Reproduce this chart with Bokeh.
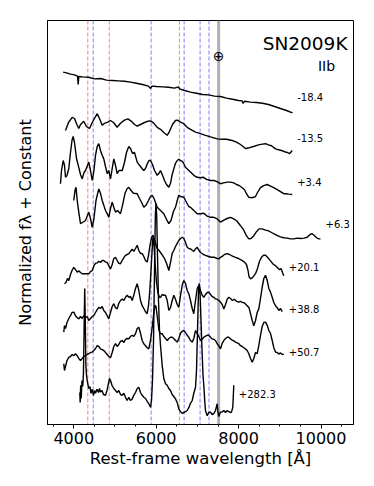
from bokeh.plotting import figure
from bokeh.models import Range1d, FixedTicker, Span, Label
from bokeh.embed import file_html
from bokeh.resources import INLINE

# ---------------- data ----------------
epochs = ["-18.4", "-13.5", "+3.4", "+6.3", "+20.1", "+38.8", "+50.7", "+282.3"]
offsets = [8.0, 7.0, 6.0, 5.0, 4.0, 3.0, 2.0, 0.5]

wl_m184 = [3743, 3823, 3920, 4017, 4090, 4107, 4121, 4211, 4357, 4502, 4648, 4794, 4939, 5085, 5230, 5376,
           5522, 5667, 5813, 5862, 5898, 6007, 6153, 6298, 6444, 6541, 6566, 6687, 6832, 6978, 7124, 7269,
           7415, 7560, 7706, 7852, 7997, 8087, 8106, 8143, 8289, 8434, 8579, 8725, 8871, 9016, 9162, 9307]
fl_m184 = [0.81, 0.79, 0.76, 0.74, 0.71, 0.50, 0.70, 0.69, 0.68, 0.64, 0.65, 0.61, 0.60, 0.59, 0.58, 0.56,
           0.53, 0.50, 0.46, 0.40, 0.46, 0.45, 0.44, 0.43, 0.41, 0.44, 0.39, 0.35, 0.31, 0.28, 0.25, 0.24,
           0.21, 0.20, 0.16, 0.13, 0.10, 0.09, 0.03, 0.08, 0.06, 0.05, 0.03, 0.00, -0.05, -0.10, -0.15, -0.21]

wl_m135 = [3799, 3872, 3961, 4017, 4083, 4121, 4163, 4243, 4308, 4381, 4447, 4502, 4568, 4624, 4689, 4745,
           4825, 4891, 4963, 5053, 5133, 5230, 5315, 5400, 5473, 5539, 5619, 5716, 5789, 5862, 5935, 6024,
           6104, 6184, 6267, 6323, 6395, 6468, 6517, 6590, 6670, 6752, 6832, 6954, 7075, 7196, 7318, 7480,
           7609, 7706, 7844, 7948, 8046, 8167, 8264, 8361, 8483, 8579, 8653, 8725, 8798, 8895, 8968, 9041,
           9113, 9186, 9235, 9271, 9300]
fl_m135 = [0.35, 0.55, 0.68, 0.65, 0.48, 0.40, 0.50, 0.58, 0.45, 0.40, 0.55, 0.65, 0.77, 0.65, 0.48, 0.53,
           0.56, 0.60, 0.55, 0.43, 0.53, 0.61, 0.64, 0.58, 0.50, 0.46, 0.50, 0.55, 0.58, 0.59, 0.54, 0.43,
           0.38, 0.30, 0.23, 0.33, 0.50, 0.60, 0.61, 0.56, 0.52, 0.43, 0.38, 0.31, 0.27, 0.23, 0.19, 0.14,
           0.13, 0.13, 0.10, 0.06, 0.00, -0.10, -0.08, -0.05, -0.01, 0.01, 0.02, -0.01, -0.03, -0.11, -0.13, -0.15,
           -0.18, -0.20, -0.23, -0.19, -0.15]

wl_p34 = [3677, 3702, 3743, 3774, 3799, 3835, 3879, 3920, 3956, 3985, 4017, 4066, 4121, 4163, 4204, 4248,
          4284, 4364, 4405, 4447, 4490, 4527, 4568, 4607, 4648, 4689, 4728, 4769, 4811, 4849, 4891, 4932,
          4971, 5012, 5053, 5097, 5175, 5230, 5279, 5335, 5376, 5424, 5473, 5539, 5595, 5655, 5699, 5740,
          5789, 5825, 5862, 5910, 5959, 6024, 6068, 6104, 6153, 6201, 6250, 6306, 6347, 6383, 6427, 6468,
          6510, 6548, 6590, 6631, 6670, 6711, 6760, 6832, 6912, 6995, 7075, 7148, 7221, 7318, 7398, 7463,
          7560, 7633, 7723, 7803, 7883, 7948, 8021, 8087, 8143, 8191, 8247, 8313, 8369, 8410, 8458, 8531,
          8611, 8694, 8774, 8854, 8936, 9016, 9096, 9162, 9210, 9300]
fl_p34 = [0.02, 0.35, 0.60, 0.48, 0.18, 0.23, 0.40, 0.80, 1.10, 1.20, 1.05, 0.65, 0.43, 0.25, 0.14, 0.30,
          0.35, 0.56, 0.35, 0.10, 0.35, 0.73, 0.95, 1.02, 0.85, 0.73, 0.64, 0.45, 0.27, 0.35, 0.14, 0.40,
          0.64, 0.48, 0.27, 0.35, 0.35, 0.55, 0.80, 0.95, 0.90, 0.78, 0.80, 0.56, 0.48, 0.40, 0.35, 0.40,
          0.53, 0.60, 0.60, 0.50, 0.35, 0.23, 0.28, 0.35, 0.23, 0.10, 0.00, -0.07, 0.03, 0.23, 0.39, 0.53,
          0.60, 0.63, 0.60, 0.58, 0.52, 0.43, 0.38, 0.31, 0.23, 0.18, 0.17, 0.18, 0.13, 0.10, 0.10, 0.08,
          0.02, 0.04, 0.06, 0.06, 0.04, 0.00, -0.03, -0.08, -0.13, -0.23, -0.32, -0.33, -0.32, -0.30, -0.20, -0.08,
          -0.03, 0.00, -0.04, -0.08, -0.13, -0.18, -0.23, -0.23, -0.24, -0.25]

wl_p63 = [4000, 4029, 4054, 4083, 4121, 4163, 4211, 4284, 4364, 4405, 4447, 4490, 4539, 4607, 4648, 4689,
          4728, 4769, 4806, 4849, 4891, 4932, 4971, 5012, 5061, 5133, 5182, 5243, 5296, 5335, 5388, 5449,
          5539, 5595, 5655, 5699, 5752, 5813, 5862, 5903, 5947, 6024, 6104, 6184, 6250, 6306, 6359, 6420,
          6468, 6510, 6548, 6590, 6670, 6736, 6791, 6832, 6912, 6995, 7075, 7155, 7238, 7318, 7398, 7480,
          7560, 7641, 7723, 7803, 7883, 7964, 8046, 8118, 8191, 8247, 8301, 8369, 8434, 8495, 8572, 8653,
          8725, 8798, 8871, 8944, 9016, 9096, 9179, 9259, 9340, 9421, 9502, 9583, 9665, 9733, 9786, 9842,
          9903, 9951, 9987]
fl_p63 = [0.60, 0.85, 0.93, 0.60, 0.31, 0.02, 0.05, 0.10, 0.31, 0.15, -0.07, 0.15, 0.60, 0.89, 0.78, 0.60,
          0.48, 0.35, 0.28, 0.18, 0.40, 0.56, 0.43, 0.31, 0.35, 0.27, 0.48, 0.78, 0.90, 0.93, 0.85, 0.78,
          0.77, 0.65, 0.53, 0.43, 0.48, 0.60, 0.70, 0.73, 0.65, 0.43, 0.35, 0.27, 0.13, 0.02, 0.10, 0.33,
          0.43, 0.60, 0.73, 0.70, 0.68, 0.55, 0.45, 0.43, 0.35, 0.27, 0.27, 0.28, 0.21, 0.18, 0.18, 0.14,
          0.06, 0.11, 0.15, 0.18, 0.14, 0.08, -0.03, -0.13, -0.28, -0.36, -0.35, -0.28, -0.18, -0.11, -0.11, -0.14,
          -0.16, -0.20, -0.24, -0.28, -0.31, -0.33, -0.34, -0.36, -0.36, -0.34, -0.35, -0.34, -0.32, -0.25, -0.23, -0.28,
          -0.34, -0.36, -0.36]

wl_p201 = [3774, 3811, 3847, 3879, 3920, 3956, 4000, 4041, 4083, 4126, 4163, 4204, 4260, 4325, 4369, 4405,
           4447, 4490, 4527, 4568, 4607, 4648, 4689, 4728, 4769, 4811, 4849, 4891, 4932, 4971, 5012, 5053,
           5092, 5133, 5175, 5218, 5255, 5296, 5335, 5376, 5417, 5456, 5497, 5539, 5578, 5619, 5660, 5699,
           5740, 5781, 5813, 5845, 5874, 5898, 5922, 5947, 5983, 6024, 6068, 6104, 6153, 6201, 6250, 6286,
           6306, 6347, 6388, 6427, 6468, 6510, 6548, 6590, 6631, 6670, 6711, 6752, 6791, 6832, 6881, 6912,
           6954, 6995, 7039, 7075, 7148, 7196, 7269, 7342, 7415, 7480, 7519, 7560, 7609, 7657, 7723, 7779,
           7852, 7924, 7997, 8070, 8143, 8191, 8228, 8252, 8289, 8337, 8410, 8458, 8507, 8555, 8604, 8653,
           8701, 8774, 8847, 8895, 8944, 8992, 9029, 9065, 9096]
fl_p201 = [-0.48, -0.45, -0.35, -0.40, -0.25, -0.15, -0.07, -0.13, -0.19, -0.16, -0.20, -0.23, -0.23, -0.23, -0.23, -0.18,
           -0.15, -0.03, 0.03, 0.04, 0.08, 0.05, 0.10, 0.10, 0.06, 0.05, -0.03, -0.11, 0.00, 0.15, 0.18, 0.10,
           0.03, 0.02, 0.10, 0.18, 0.23, 0.25, 0.27, 0.33, 0.38, 0.33, 0.40, 0.48, 0.35, 0.28, 0.27, 0.20,
           0.10, 0.06, 0.23, 0.45, 0.60, 0.70, 0.73, 0.65, 0.53, 0.40, 0.35, 0.30, 0.23, 0.15, 0.03, -0.08,
           -0.15, 0.05, 0.28, 0.35, 0.45, 0.53, 0.60, 0.65, 0.68, 0.65, 0.55, 0.43, 0.40, 0.39, 0.35, 0.33,
           0.39, 0.43, 0.35, 0.30, 0.25, 0.23, 0.20, 0.18, 0.18, 0.15, 0.14, 0.18, 0.21, 0.25, 0.27, 0.25,
           0.21, 0.18, 0.15, 0.11, 0.06, 0.00, -0.15, -0.30, -0.36, -0.33, -0.23, -0.10, 0.08, 0.18, 0.23, 0.23,
           0.18, 0.09, 0.00, -0.03, -0.08, -0.13, -0.10, -0.20, -0.28]

wl_p388 = [3757, 3774, 3799, 3835, 3879, 3920, 3956, 4000, 4041, 4083, 4121, 4163, 4204, 4243, 4284, 4325,
           4364, 4405, 4447, 4485, 4527, 4568, 4607, 4648, 4689, 4728, 4769, 4811, 4849, 4891, 4932, 4971,
           5012, 5053, 5092, 5133, 5175, 5214, 5255, 5296, 5335, 5376, 5417, 5456, 5497, 5539, 5578, 5619,
           5660, 5699, 5740, 5781, 5813, 5845, 5874, 5898, 5922, 5947, 5971, 6007, 6044, 6080, 6104, 6145,
           6184, 6226, 6267, 6306, 6347, 6388, 6427, 6468, 6510, 6548, 6590, 6631, 6670, 6711, 6752, 6791,
           6832, 6874, 6912, 6954, 6995, 7034, 7075, 7116, 7155, 7196, 7238, 7276, 7318, 7358, 7398, 7439,
           7480, 7519, 7560, 7602, 7641, 7682, 7723, 7762, 7803, 7852, 7900, 7948, 8005, 8046, 8094, 8143,
           8208, 8252, 8289, 8330, 8369, 8410, 8451, 8490, 8531, 8572, 8611, 8653, 8694, 8734, 8774, 8815,
           8854, 8895, 8936, 8976, 9016, 9058]
fl_p388 = [-0.69, -0.53, -0.60, -0.45, -0.35, -0.28, -0.20, -0.19, -0.28, -0.33, -0.36, -0.30, -0.35, -0.28, -0.33, -0.30,
           -0.40, -0.35, -0.30, -0.28, -0.20, -0.13, -0.07, -0.10, -0.05, -0.15, -0.20, -0.28, -0.36, -0.20, -0.05, 0.02,
           -0.08, -0.11, 0.03, 0.10, 0.14, 0.10, 0.18, 0.23, 0.18, 0.20, 0.10, 0.23, 0.40, 0.52, 0.35, 0.10,
           -0.03, -0.10, -0.18, -0.23, -0.03, 0.35, 0.85, 1.30, 1.70, 1.48, 1.05, 0.55, 0.28, 0.18, 0.18, 0.25,
           0.23, 0.23, 0.10, -0.15, -0.08, 0.10, 0.23, 0.13, 0.00, -0.07, 0.23, 0.48, 0.60, 0.53, 0.35, 0.27,
           0.10, -0.10, -0.23, 0.10, 0.40, 0.48, 0.35, 0.23, 0.18, 0.25, 0.30, 0.31, 0.25, 0.20, 0.18, 0.14,
           0.13, 0.10, 0.06, 0.00, -0.11, 0.00, 0.13, 0.18, 0.15, 0.10, 0.13, 0.08, 0.06, 0.08, 0.05, 0.04,
           -0.03, -0.08, -0.23, -0.40, -0.53, -0.40, -0.20, -0.11, 0.15, 0.43, 0.65, 0.73, 0.60, 0.40, 0.31, 0.18,
           0.05, -0.03, -0.08, -0.15, -0.10, -0.18]

wl_p507 = [3757, 3774, 3799, 3835, 3879, 3920, 3961, 4000, 4041, 4083, 4121, 4163, 4204, 4243, 4284, 4325,
           4364, 4405, 4447, 4485, 4527, 4568, 4607, 4648, 4689, 4728, 4769, 4811, 4849, 4891, 4932, 4971,
           5012, 5053, 5092, 5133, 5175, 5214, 5255, 5296, 5335, 5376, 5417, 5456, 5497, 5539, 5578, 5619,
           5660, 5699, 5740, 5781, 5820, 5862, 5903, 5942, 5971, 5995, 6031, 6068, 6104, 6145, 6184, 6226,
           6267, 6306, 6347, 6388, 6427, 6468, 6510, 6548, 6590, 6631, 6670, 6711, 6752, 6791, 6832, 6874,
           6912, 6954, 6995, 7034, 7075, 7116, 7155, 7196, 7238, 7276, 7318, 7358, 7398, 7439, 7480, 7519,
           7560, 7602, 7641, 7682, 7723, 7762, 7803, 7844, 7883, 7924, 7964, 8005, 8046, 8087, 8126, 8167,
           8208, 8247, 8289, 8330, 8369, 8410, 8451, 8490, 8531, 8572, 8611, 8653, 8694, 8734, 8774, 8815,
           8854, 8895, 8936, 8976, 9016, 9058, 9096]
fl_p507 = [-0.48, -0.65, -0.55, -0.40, -0.32, -0.30, -0.25, -0.28, -0.23, -0.28, -0.35, -0.40, -0.35, -0.30, -0.28, -0.25,
           -0.23, -0.20, -0.19, -0.15, -0.10, -0.03, -0.05, -0.11, -0.13, -0.15, -0.20, -0.25, -0.30, -0.33, -0.20, -0.05,
           0.02, -0.05, 0.00, 0.08, 0.10, 0.05, 0.13, 0.15, 0.14, 0.20, 0.23, 0.20, 0.27, 0.40, 0.43, 0.28,
           0.10, 0.02, -0.03, -0.08, -0.11, 0.10, 0.43, 0.80, 0.98, 0.95, 0.65, 0.35, 0.27, 0.27, 0.20, 0.15,
           0.10, 0.15, 0.18, 0.18, 0.15, 0.10, 0.06, 0.15, 0.28, 0.33, 0.35, 0.30, 0.23, 0.18, 0.10, 0.06,
           0.15, 0.35, 0.28, 0.20, 0.10, 0.13, 0.18, 0.21, 0.23, 0.23, 0.18, 0.14, 0.13, 0.10, 0.02, -0.03,
           -0.11, 0.03, 0.10, 0.15, 0.18, 0.18, 0.14, 0.11, 0.09, 0.06, 0.04, 0.02, -0.03, -0.05, -0.08, -0.11,
           -0.15, -0.23, -0.35, -0.44, -0.35, -0.20, -0.23, -0.03, 0.23, 0.45, 0.55, 0.56, 0.48, 0.35, 0.28, 0.10,
           -0.08, -0.19, -0.20, -0.24, -0.21, -0.25, -0.24]

wl_p2823 = [4146, 4155, 4167, 4180, 4199, 4218, 4235, 4250, 4265, 4279, 4294, 4308, 4333, 4364, 4393, 4417,
            4447, 4478, 4502, 4527, 4563, 4600, 4624, 4648, 4684, 4721, 4769, 4806, 4842, 4867, 4891, 4927,
            4971, 5012, 5053, 5092, 5133, 5175, 5214, 5255, 5296, 5335, 5376, 5417, 5456, 5497, 5539, 5578,
            5619, 5660, 5699, 5740, 5781, 5820, 5862, 5886, 5910, 5935, 5959, 5979, 5995, 6012, 6031, 6056,
            6080, 6104, 6145, 6184, 6226, 6267, 6306, 6347, 6388, 6427, 6468, 6510, 6548, 6590, 6631, 6670,
            6711, 6752, 6791, 6832, 6874, 6912, 6954, 6978, 7003, 7027, 7046, 7066, 7087, 7112, 7136, 7155,
            7177, 7196, 7238, 7276, 7318, 7358, 7398, 7439, 7480, 7500, 7519, 7560, 7602, 7641, 7682, 7723,
            7762, 7803, 7827, 7859, 7883]
fl_p2823 = [0.30, 0.05, 0.48, 0.15, 0.60, 0.45, 0.80, 1.85, 2.90, 2.10, 0.98, 0.73, 0.55, 0.40, 0.45, 0.28,
            0.38, 0.23, 0.35, 0.28, 0.38, 0.30, 0.40, 0.31, 0.35, 0.25, 0.23, 0.35, 0.53, 0.65, 0.60, 0.48,
            0.40, 0.35, 0.30, 0.35, 0.25, 0.23, 0.28, 0.18, 0.10, 0.18, 0.10, 0.14, 0.23, 0.30, 0.40, 0.43,
            0.30, 0.23, 0.18, 0.15, 0.08, 0.02, -0.07, 0.10, 0.60, 1.60, 3.35, 4.73, 5.03, 4.73, 3.73, 2.60,
            1.85, 1.48, 0.98, 0.65, 0.52, 0.48, 0.40, 0.35, 0.25, 0.20, 0.14, 0.05, -0.11, -0.18, -0.22, -0.20,
            -0.18, -0.15, -0.08, 0.03, 0.10, 0.28, 0.43, 0.85, 1.85, 2.85, 3.03, 2.73, 2.10, 1.35, 0.73, 0.48,
            0.10, -0.15, -0.28, -0.20, -0.19, -0.25, -0.23, -0.15, 0.02, -0.20, -0.30, -0.19, -0.19, -0.15, -0.20, -0.15,
            -0.18, -0.20, -0.19, -0.07, 0.48]

wavelengths = [wl_m184, wl_m135, wl_p34, wl_p63, wl_p201, wl_p388, wl_p507, wl_p2823]
fluxes = [fl_m184, fl_m135, fl_p34, fl_p63, fl_p201, fl_p388, fl_p507, fl_p2823]

# label anchor (wavelength, y) for each epoch
label_x = [9422, 9422, 9422, 10109, 9218, 9218, 9218, 8005]
label_y = [8.18, 7.17, 6.06, 5.02, 3.93, 2.88, 1.81, 0.77]

hydrogen_lines = [4340, 4861, 6563]
helium_lines = [4471, 5876, 6678, 7065, 7281]
telluric = 7515

x_ticks = [4000, 6000, 8000, 10000]
x_minor = [3500, 4500, 5000, 5500, 6500, 7000, 7500, 8500, 9000, 9500, 10500]

FONT = "DejaVu Sans"

p = figure(width=366, height=478, output_backend="svg", toolbar_location=None,
           x_range=Range1d(3362, 10788), y_range=Range1d(0, 10.1),
           min_border_left=47, min_border_right=13, min_border_top=20, min_border_bottom=54)
p.background_fill_color = "white"
p.border_fill_color = "white"
p.outline_line_color = "black"
p.outline_line_width = 1
p.grid.visible = False

p.xaxis.ticker = FixedTicker(ticks=x_ticks, minor_ticks=x_minor)
p.xaxis.major_label_text_font = FONT
p.xaxis.major_label_text_font_size = "16px"
p.xaxis.major_label_text_color = "black"
p.xaxis.major_tick_in = 0
p.xaxis.major_tick_out = 4
p.xaxis.minor_tick_in = 0
p.xaxis.minor_tick_out = 2
p.xaxis.axis_label = "Rest-frame wavelength [Å]"
p.xaxis.axis_label_text_font = FONT
p.xaxis.axis_label_text_font_size = "16.5px"
p.xaxis.axis_label_text_font_style = "normal"
p.xaxis.axis_label_text_color = "black"
p.xaxis.axis_label_standoff = 2
p.xaxis.major_label_standoff = 3

p.yaxis.ticker = FixedTicker(ticks=[])
p.yaxis.axis_label = "Normalized fλ + Constant"
p.yaxis.axis_label_text_font = FONT
p.yaxis.axis_label_text_font_size = "16px"
p.yaxis.axis_label_text_font_style = "normal"
p.yaxis.axis_label_text_color = "black"
p.yaxis.axis_label_standoff = 13

for loc in hydrogen_lines:
    p.add_layout(Span(location=loc, dimension="height", line_color="#ff8080",
                      line_dash="4 2", line_width=1, level="underlay"))
for loc in helium_lines:
    p.add_layout(Span(location=loc, dimension="height", line_color="#8080ff",
                      line_dash="4 2", line_width=1, level="underlay"))
p.add_layout(Span(location=telluric, dimension="height", line_color="#b0b0b0",
                  line_width=3, level="underlay"))

for wl, fl, off in zip(wavelengths, fluxes, offsets):
    p.line(wl, [f + off for f in fl], line_color="black", line_width=1.4)

for txt, lx, ly in zip(epochs, label_x, label_y):
    p.add_layout(Label(x=lx, y=ly, text=txt, text_font=FONT, text_font_size="10px",
                       text_align="left", text_baseline="middle", text_color="black"))

p.add_layout(Label(x=10643, y=9.52, text="SN2009K", text_font=FONT, text_font_size="18.5px",
                   text_align="right", text_baseline="alphabetic", text_color="black"))
p.add_layout(Label(x=10340, y=8.97, text="IIb", text_font=FONT, text_font_size="14px",
                   text_align="right", text_baseline="alphabetic", text_color="black"))
p.add_layout(Label(x=telluric, y=9.22, text="⊕", text_font=FONT, text_font_size="14px",
                   text_align="center", text_baseline="middle", text_color="black"))

open("out.html", "w").write(file_html(p, INLINE))
